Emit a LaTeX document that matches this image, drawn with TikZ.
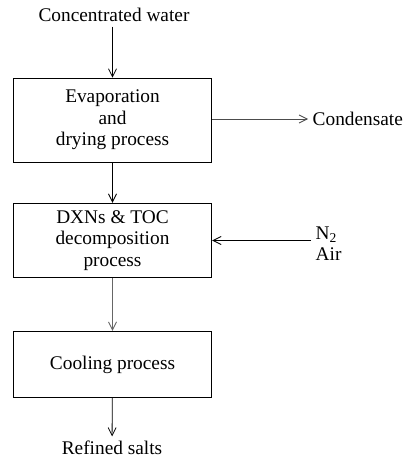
\documentclass[tikz,border=0pt]{standalone}
\usepackage{fontspec}
\setmainfont{Liberation Serif}
\usetikzlibrary{arrows.meta}
\usetikzlibrary{positioning}

\tikzset{
  process/.style={draw,line width=0.6pt,minimum width=149pt,align=center,
    font=\fontsize{14.5}{16}\selectfont},
  stream/.style={font=\fontsize{14.5}{16}\selectfont},
  flow/.style={line width=0.6pt,-{Straight Barb[length=6pt,width=6pt]}}
}

\begin{document}
\begin{tikzpicture}[x=0.75pt,y=-0.75pt]
\useasboundingbox (0,0) rectangle (419,459);
% process boxes
\node[process,minimum height=63pt] (evap) at (112.5,120) {Evaporation\\and\\drying process};
\node[process,minimum height=56pt] (decomp) at (112.5,240.5) {DXNs \& TOC\\decomposition\\process};
\node[process,minimum height=50pt] (cool) at (112.5,364.5) {Cooling process};
% streams in and out
\node[stream] (water) at (114,15) {Concentrated water};
\node[stream,anchor=west] (cond) at (308,119) {Condensate};
\node[stream,anchor=west,align=left] (gas) at (311,244) {N\textsubscript{2}\\Air};
\node[stream] (salts) at (112,448) {Refined salts};
% connectors
\draw[flow] (water.south -| evap.north) -- (evap.north);
\draw[flow,black!70] (evap.east |- cond.west) -- (cond.west);
\draw[flow] (evap) -- (decomp);
\draw[flow] (gas.west |- decomp.east) -- (decomp.east);
\draw[flow,black!60] (decomp) -- (cool);
\draw[flow] (cool) -- (salts);
\end{tikzpicture}
\end{document}
